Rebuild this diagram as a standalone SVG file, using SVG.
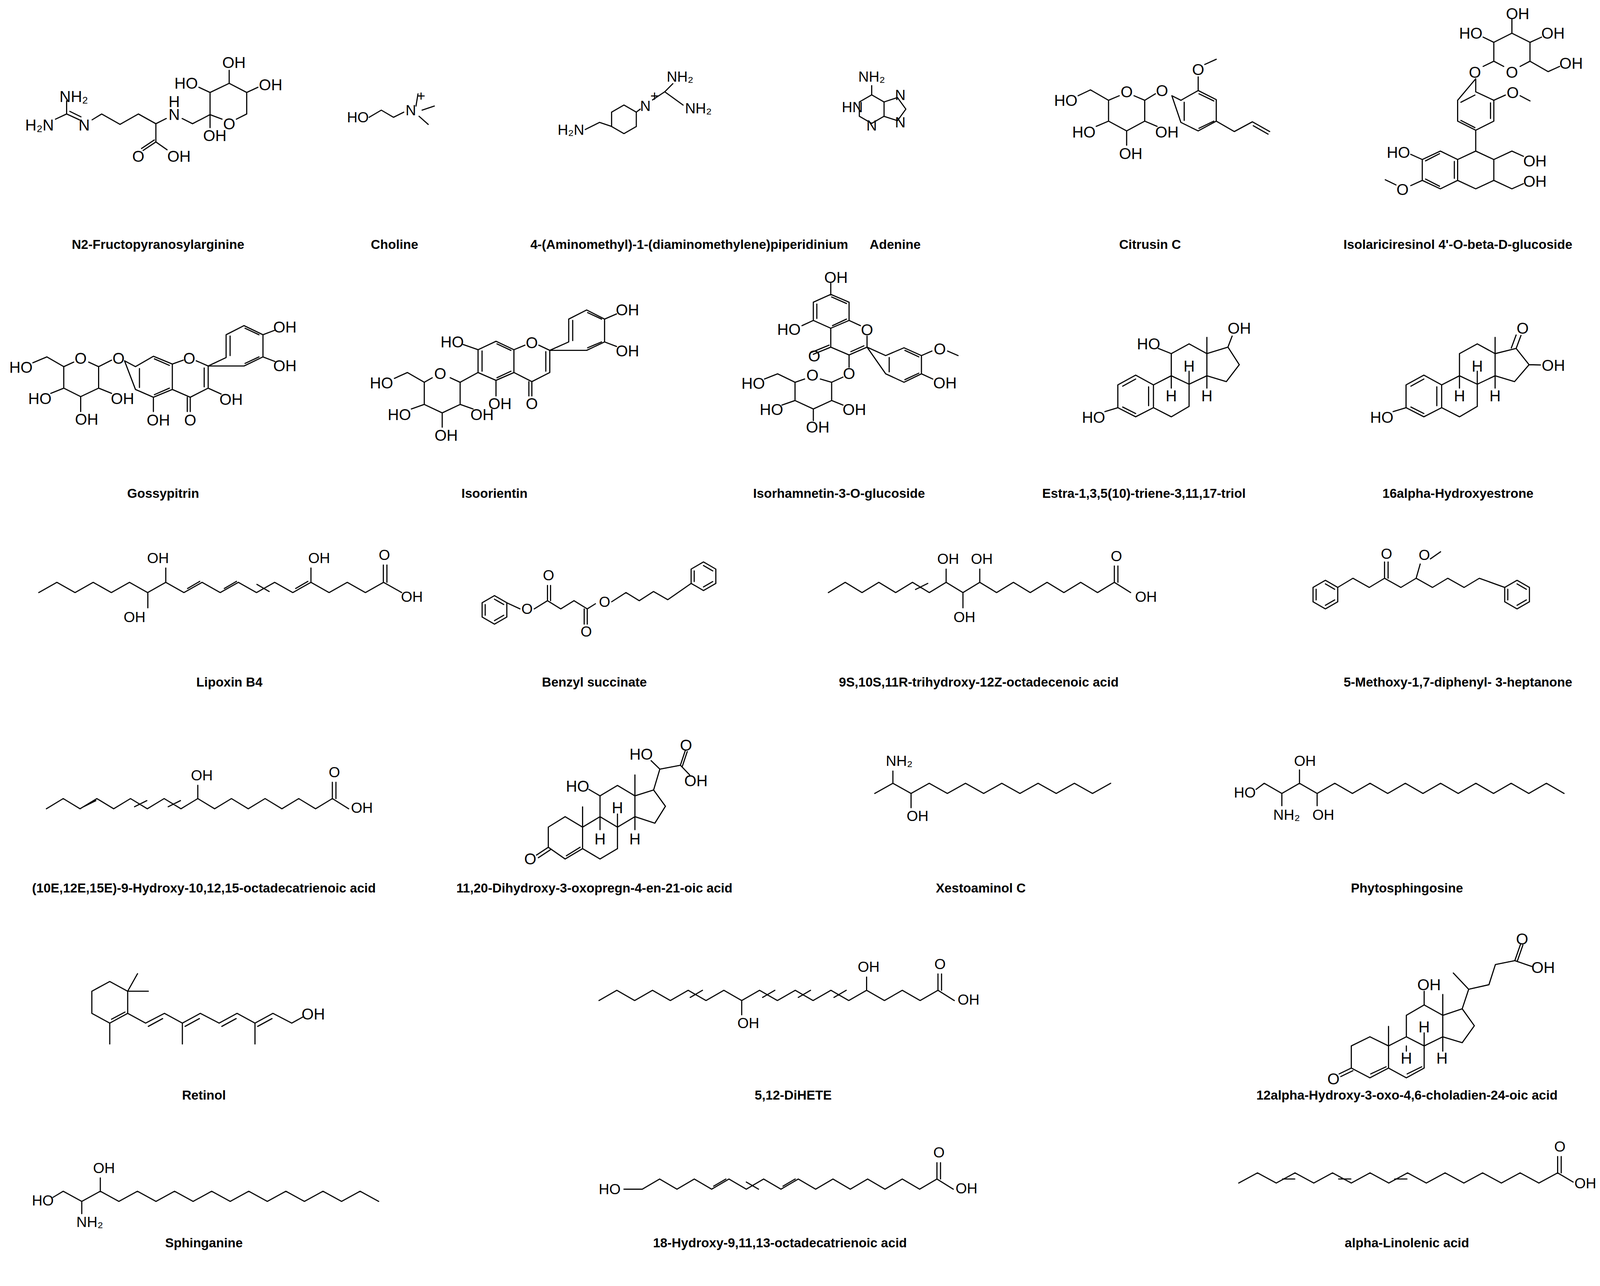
<svg xmlns="http://www.w3.org/2000/svg" width="4168" height="3291" viewBox="0 0 4168 3291">
<style>
.b{fill:none;stroke:#000;stroke-width:1.1;stroke-linejoin:round;stroke-linecap:round}
.z{fill:none;stroke:#000;stroke-width:2.9;vector-effect:non-scaling-stroke;stroke-linejoin:round;stroke-linecap:round}
.t{font-family:"Liberation Sans",Arial,sans-serif;font-size:12.7px;font-weight:bold;text-anchor:middle;fill:#000}
.a{font-family:"Liberation Sans",Arial,sans-serif;font-size:14.3px;text-anchor:middle;fill:#000}
.za{font-family:"Liberation Sans",Arial,sans-serif;text-anchor:middle;dominant-baseline:central;fill:#000}
</style>
<defs>
<path id="hex" class="b" d="M0,-14 L12.12,-7 L12.12,7 L0,14 L-12.12,7 L-12.12,-7 Z"/>
<g id="benz"><use href="#hex"/><path class="b" d="M0,-10.5 L9.1,-5.25 M9.1,5.25 L0,10.5 M-9.1,5.25 L-9.1,-5.25"/></g>
<path id="pent" class="b" d="M-9.63,-7 L3.68,-11.33 L11.91,0 L3.68,11.33 L-9.63,7"/>
</defs>
<rect width="4168" height="3291" fill="#fff"/>

<g id="n1">
<path class="z" transform="translate(40,20) scale(0.408,0.3333)" d="M250,855 L320,815 L320,715 M320,815 L400,860 M340,795 L410,837 M480,860 L540,815 L655,895 L770,815 L880,890 L945,850 M1045,850 L1110,890 L1220,820 L1220,650 L1340,580 L1450,650 L1450,815 L1385,855 M1295,855 L1220,820 M880,890 L880,1030 L800,1095 M870,1015 L790,1080 M880,1030 L950,1090 M1220,650 L1150,610 M1340,580 L1340,480 M1450,650 L1520,610 M1220,820 L1220,920"/>
<g transform="translate(40,20) scale(0.408)" font-size="98">
<text class="za" x="150" y="735">H₂N</text><text class="za" x="365" y="556">NH₂</text><text class="za" x="430" y="735">N</text>
<text class="za" x="995" y="670">N</text><text class="za" x="995" y="588">H</text>
<text class="za" x="770" y="931">O</text><text class="za" x="1025" y="931">OH</text>
<text class="za" x="1070" y="474">HO</text><text class="za" x="1370" y="343">OH</text><text class="za" x="1600" y="482">OH</text>
<text class="za" x="1250" y="801">OH</text><text class="za" x="1340" y="727">O</text>
</g>
<g transform="scale(2.61)"><text class="t" x="155" y="244">N2-Fructopyranosylarginine</text></g>
</g>

<g id="n2" transform="scale(2.61)">
<path class="b" d="M362,115 L374,108 L386,115 L396,110 M408,104 L410,92 M414,108 L426,104 M411,114 L420,122"/>
<text class="a" x="351" y="120">HO</text><text class="a" x="403" y="113">N</text><text class="a" x="413" y="99">+</text>
<text class="t" x="387" y="244">Choline</text>
</g>
<g id="n3" transform="scale(2.61)">
<path class="b" d="M574,127 L588,120 L600,124 M624,110 L628,107 M640,98 L652,90 L660,82 M652,90 L670,103"/>
<use href="#hex" x="612" y="117"/>
<text class="a" x="560" y="132">H₂N</text><text class="a" x="633" y="109">N</text><text class="a" x="642" y="99">+</text>
<text class="a" x="667" y="80">NH₂</text><text class="a" x="685" y="111">NH₂</text>
<text class="t" x="676" y="244">4-(Aminomethyl)-1-(diaminomethylene)piperidinium</text>
</g>
<g id="n4" transform="scale(2.61)">
<use href="#hex" x="855" y="107"/><use href="#pent" x="876.6" y="107"/>
<path class="b" d="M855,93 L855,84"/>
<text class="a" x="855" y="80">NH₂</text><text class="a" x="836" y="110">HN</text>
<text class="a" x="855" y="128">N</text><text class="a" x="883" y="98">N</text><text class="a" x="883" y="125">N</text>
<text class="t" x="878" y="244">Adenine</text>
</g>

<g id="n5">
<path class="z" transform="translate(2680,150) scale(0.421,0.3333)" d="M375,320 L440,285 M530,285 L595,320 L595,480 L485,555 L375,480 L375,320 L265,240 L190,285 M595,320 L660,270 M760,285 L815,320 L920,245 L1030,315 L1030,480 L920,555 L815,490 Z M835,335 L835,475 M925,270 L1015,325 M925,535 L1015,480 M920,245 L920,140 M960,45 L1030,5 M1030,480 L1140,560 L1250,485 L1355,560 M1255,515 L1345,580 M375,480 L300,520 M595,480 L670,520 M485,555 L485,665"/>
<g transform="translate(2680,150) scale(0.421)" font-size="95">
<text class="za" x="485" y="202">O</text><text class="za" x="115" y="253">HO</text><text class="za" x="700" y="194">O</text>
<text class="za" x="920" y="67">O</text><text class="za" x="225" y="447">HO</text><text class="za" x="730" y="447">OH</text><text class="za" x="510" y="578">OH</text>
</g>
<g transform="scale(2.61)"><text class="t" x="1128" y="244">Citrusin C</text></g>
</g>

<g id="n6">
<path class="z" transform="translate(3500,0) scale(0.421,0.3333)" d="M705,510 L770,470 L770,325 L880,255 L990,325 L990,470 L930,510 M830,510 L770,470 M990,470 L1100,550 L1170,510 M880,255 L880,145 M770,325 L705,285 M990,325 L1060,285 M660,605 L660,705 L770,770 L770,930 L660,1000 L550,930 L550,770 Z M750,790 L750,910 M655,980 L570,925 M570,785 L655,730 M770,770 L840,730 M930,735 L990,775 M660,1000 L660,1160 L770,1225 L770,1385 L660,1450 L550,1385 L550,1225 L660,1160 M550,1225 L445,1160 L335,1225 L335,1385 L445,1450 L550,1385 M530,1240 L530,1370 M440,1180 L355,1235 M355,1375 L440,1430 M770,1225 L880,1160 L950,1200 M770,1385 L880,1450 L950,1410 M335,1225 L265,1185 M335,1385 L265,1425 M110,1380 L175,1420"/>
<g transform="translate(3500,0) scale(0.421)" font-size="95">
<text class="za" x="915" y="83">OH</text><text class="za" x="630" y="202">HO</text><text class="za" x="1130" y="202">OH</text>
<text class="za" x="1240" y="384">OH</text><text class="za" x="880" y="440">O</text><text class="za" x="655" y="440">O</text>
<text class="za" x="885" y="562">O</text><text class="za" x="190" y="927">HO</text><text class="za" x="215" y="1152">O</text>
<text class="za" x="1020" y="978">OH</text><text class="za" x="1020" y="1101">OH</text>
</g>
<g transform="scale(2.61)"><text class="t" x="1430" y="244">Isolariciresinol 4'-O-beta-D-glucoside</text></g>
</g>

<g id="n7">
<path class="z" transform="translate(0,760) scale(0.510,0.3333)" d="M370,500 L320,535 L320,700 L405,765 L495,700 L495,535 L445,500 M320,535 L235,460 L165,505 M495,535 L560,485 M625,490 L680,535 L770,455 L865,515 L865,710 L770,770 L680,710 Z M700,550 L700,695 M775,475 L850,525 M775,750 L850,700 M865,515 L920,485 M985,490 L1045,530 L1045,700 L955,770 L865,710 M1025,545 L1025,690 M955,770 L955,880 M940,770 L940,880 M1045,700 L1110,745 M770,770 L770,880 M1045,530 L1135,465 L1135,290 L1225,220 L1320,290 L1320,460 L1225,530 Z M1155,300 L1155,450 M1230,240 L1300,290 M1230,510 L1300,460 M1320,290 L1380,255 M1320,460 L1380,495 M320,700 L255,740 M495,700 L560,740 M405,765 L405,880"/>
<g transform="translate(0,760) scale(0.510)" font-size="78">
<text class="za" x="405" y="307">O</text><text class="za" x="105" y="353">HO</text><text class="za" x="595" y="307">O</text><text class="za" x="950" y="307">O</text>
<text class="za" x="955" y="617">O</text><text class="za" x="1160" y="513">OH</text><text class="za" x="795" y="617">OH</text>
<text class="za" x="1430" y="150">OH</text><text class="za" x="1430" y="346">OH</text>
<text class="za" x="200" y="509">HO</text><text class="za" x="615" y="509">OH</text><text class="za" x="435" y="614">OH</text>
</g>
<g transform="scale(2.61)"><text class="t" x="160" y="488">Gossypitrin</text></g>
</g>

<g id="n8">
<path class="z" transform="translate(900,760) scale(0.510,0.3333)" d="M635,405 L725,340 L815,405 L815,580 L725,640 L635,580 Z M655,415 L655,570 M730,360 L800,410 M730,620 L800,570 M635,405 L560,365 M815,405 L870,370 M940,370 L995,410 L995,580 L905,650 L815,580 M975,420 L975,570 M905,650 L905,760 M890,650 L890,760 M725,640 L725,760 M995,410 L1090,345 L1090,170 L1180,100 L1270,170 L1270,345 L1180,410 Z M1110,180 L1110,335 M1185,120 L1255,170 M1185,390 L1255,345 M1270,170 L1330,130 M1270,345 L1330,380 M635,580 L545,655 L495,620 M405,620 L365,655 L365,825 L455,890 L545,825 L545,655 M365,655 L280,580 L215,625 M365,825 L300,860 M545,825 L610,860 M455,890 L455,1000"/>
<g transform="translate(900,760) scale(0.510)" font-size="78">
<text class="za" x="505" y="225">HO</text><text class="za" x="905" y="229">O</text><text class="za" x="905" y="535">O</text><text class="za" x="745" y="535">OH</text>
<text class="za" x="1385" y="65">OH</text><text class="za" x="1385" y="271">OH</text><text class="za" x="445" y="385">O</text>
<text class="za" x="150" y="431">HO</text><text class="za" x="240" y="591">HO</text><text class="za" x="655" y="591">OH</text><text class="za" x="475" y="695">OH</text>
</g>
<g transform="scale(2.61)"><text class="t" x="485" y="488">Isoorientin</text></g>
</g>

<g id="n9">
<path class="z" transform="translate(1850,620) scale(0.4464,0.3333)" d="M620,400 L725,460 L725,600 L620,660 L520,600 L520,460 Z M540,475 L540,585 M625,420 L710,470 M630,640 L710,590 M620,400 L620,315 M520,600 L455,640 M725,600 L790,640 M828,720 L828,805 L725,865 L620,805 L620,660 M810,795 L735,840 M620,805 L520,860 M610,790 L510,845 M725,865 L725,960 M828,805 L935,870 L1040,810 L1140,870 L1140,1010 L1040,1075 L935,1010 Z M955,885 L955,995 M1045,830 L1125,880 M1045,1055 L1125,1005 M1140,870 L1200,835 M1290,835 L1350,870 M1140,1010 L1205,1050 M470,1050 L415,1075 L415,1215 L520,1280 L625,1215 L625,1075 L560,1050 M415,1075 L315,1010 L240,1050 M625,1075 L690,1035 M415,1215 L340,1250 M625,1215 L690,1250 M520,1280 L520,1370"/>
<g transform="translate(1850,620) scale(0.4464)" font-size="90">
<text class="za" x="650" y="202">OH</text><text class="za" x="380" y="500">HO</text><text class="za" x="828" y="504">O</text><text class="za" x="525" y="654">O</text>
<text class="za" x="725" y="754">O</text><text class="za" x="1245" y="613">O</text><text class="za" x="1275" y="807">OH</text>
<text class="za" x="515" y="762">O</text><text class="za" x="175" y="810">HO</text><text class="za" x="280" y="960">HO</text><text class="za" x="755" y="960">OH</text><text class="za" x="545" y="1061">OH</text>
</g>
<g transform="scale(2.61)"><text class="t" x="823" y="488">Isorhamnetin-3-O-glucoside</text></g>
</g>

<g id="n10">
<path class="z" transform="translate(2700,780) scale(0.829,0.3333)" d="M250,540 L305,615 L305,790 L250,860 L195,790 L195,615 Z M210,625 L250,570 M290,630 L290,775 M210,785 L250,835 M195,790 L155,820 M305,615 L360,545 L415,610 L415,780 L360,860 L305,790 M360,545 L360,375 L415,300 L470,375 L470,545 L415,610 M470,375 L535,325 L570,460 L530,590 L470,545 M360,375 L320,335 M470,375 L470,250 M535,325 L548,240 M415,610 L415,510 M360,545 L360,640 M470,545 L470,640"/>
<g transform="translate(2700,780) scale(0.829)" font-size="48">
<text class="za" x="120" y="348">HO</text><text class="za" x="290" y="121">HO</text><text class="za" x="570" y="72">OH</text>
<text class="za" x="415" y="189">H</text><text class="za" x="360" y="281">H</text><text class="za" x="470" y="281">H</text>
</g>
<g transform="scale(2.61)"><text class="t" x="1122" y="488">Estra-1,3,5(10)-triene-3,11,17-triol</text></g>
</g>

<g id="n11">
<path class="z" transform="translate(2700,780) scale(0.829,0.3333)" d="M1140,540 L1195,615 L1195,790 L1140,860 L1085,790 L1085,615 Z M1100,625 L1140,570 M1180,630 L1180,775 M1100,785 L1140,835 M1085,790 L1045,820 M1195,615 L1250,545 L1305,610 L1305,780 L1250,860 L1195,790 M1250,545 L1250,375 L1305,300 L1360,375 L1360,545 L1305,610 M1360,375 L1425,335 L1465,460 L1420,590 L1360,545 M1360,375 L1360,250 M1425,335 L1440,235 M1410,332 L1425,232 M1465,460 L1500,462 M1305,610 L1305,510 M1250,545 L1250,640 M1360,545 L1360,640"/>
<g transform="translate(2700,780) scale(0.829)" font-size="48">
<text class="za" x="1010" y="348">HO</text><text class="za" x="1445" y="72">O</text><text class="za" x="1540" y="187">OH</text>
<text class="za" x="1305" y="189">H</text><text class="za" x="1250" y="281">H</text><text class="za" x="1360" y="281">H</text>
</g>
<g transform="scale(2.61)"><text class="t" x="1430" y="488">16alpha-Hydroxyestrone</text></g>
</g>

<g id="n12" transform="scale(2.61)">
<path class="b" d="M38,581 l17.8,-10 l17.8,10 l17.8,-10 l17.8,10 l17.8,-10 l17.8,10 l17.8,-10 l17.8,10 l17.8,-10 l17.8,10 l17.8,-10 l17.8,10 l17.8,-10 l17.8,10 l17.8,-10 l17.8,10 l17.8,-10 l17.8,10 l17.8,-10 l17.8,10 M376,571 L376,554 M379.5,571 L379.5,554 M162.6,571 L162.6,557 M145,581 L145,596 M305,571 L305,557 M184,577 l12,-7 M220,577 l12,-7 M252,573 l12,7 M290,577 l12,-7"/>
<text class="a" x="155" y="552">OH</text><text class="a" x="132" y="610">OH</text><text class="a" x="313" y="552">OH</text>
<text class="a" x="377" y="549">O</text><text class="a" x="404" y="590">OH</text>
<text class="t" x="225" y="673">Lipoxin B4</text>
</g>
<g id="n13" transform="scale(2.61)">
<use href="#benz" x="485" y="598"/><use href="#benz" x="690" y="565"/>
<path class="b" d="M497,591 L510,597 M524,597 L537,589 L550,597 L563,589 L576,597 L584,592 M537,589 L537,574 M540,589 L540,574 M576,597 L576,612 M573,597 L573,612 M600,590 L614,581 L627,589 L641,580 L655,588 L678,572"/>
<text class="a" x="517" y="602">O</text><text class="a" x="538" y="569">O</text><text class="a" x="575" y="624">O</text><text class="a" x="593" y="595">O</text>
<text class="t" x="583" y="673">Benzyl succinate</text>
</g>
<g id="n14" transform="scale(2.61)">
<path class="b" d="M812.5,581 l16.5,-10 l16.5,10 l16.5,-10 l16.5,10 l16.5,-10 l16.5,10 l16.5,-10 l16.5,10 l16.5,-10 l16.5,10 l16.5,-10 l16.5,10 l16.5,-10 l16.5,10 l16.5,-10 l16.5,10 l16.5,-10 M1093,571 L1093,555 M1096.5,571 L1096.5,555 M1093,571 L1109,581 M928,571 L928,558 M961,571 L961,558 M944.5,581 L944.5,596 M898,578 l12,-6"/>
<text class="a" x="930" y="553">OH</text><text class="a" x="963" y="553">OH</text><text class="a" x="946" y="610">OH</text>
<text class="a" x="1095" y="550">O</text><text class="a" x="1124" y="590">OH</text>
<text class="t" x="960" y="673">9S,10S,11R-trihydroxy-12Z-octadecenoic acid</text>
</g>
<g id="n15" transform="scale(2.61)">
<use href="#benz" x="1300" y="583"/><use href="#benz" x="1488" y="583"/>
<path class="b" d="M1312,576 L1327,567 L1343,576 L1358,567 L1374,576 L1389,567 L1405,576 L1420,567 L1436,576 L1451,567 L1476,576 M1358,567 L1358,551 M1361.5,567 L1361.5,551 M1389,567 L1393,553 M1403,548 L1413,541"/>
<text class="a" x="1360" y="548">O</text><text class="a" x="1397" y="549">O</text>
<text class="t" x="1430" y="673">5-Methoxy-1,7-diphenyl- 3-heptanone</text>
</g>
<g id="n16" transform="scale(2.61)">
<path class="b" d="M45.5,793 l16.5,-10 l16.5,10 l16.5,-10 l16.5,10 l16.5,-10 l16.5,10 l16.5,-10 l16.5,10 l16.5,-10 l16.5,10 l16.5,-10 l16.5,10 l16.5,-10 l16.5,10 l16.5,-10 l16.5,10 l16.5,-10 M326,783 L326,767 M329.5,783 L329.5,767 M326,783 L342,793 M194,783 L194,770 M82,791 l12,-6 M132,791 l12,-6 M165,791 l12,-6"/>
<text class="a" x="198" y="765">OH</text><text class="a" x="328" y="762">O</text><text class="a" x="355" y="797">OH</text>
<text class="t" x="200" y="875">(10E,12E,15E)-9-Hydroxy-10,12,15-octadecatrienoic acid</text>
</g>

<g id="n17">
<path class="z" transform="translate(1300,1850) scale(0.319,0.3333)" d="M325,800 L460,720 L600,800 L600,965 L460,1045 L325,955 Z M325,955 L230,1015 M340,975 L245,1035 M470,1020 L580,955 M600,800 L740,720 L880,800 L880,965 L740,1045 L600,965 M600,800 L600,645 M740,720 L740,560 L880,480 L1020,560 L1020,720 L880,800 M740,560 L650,510 M1020,560 L1020,400 M1020,560 L1170,515 L1265,640 L1180,770 L1020,720 M1170,515 L1220,355 L1150,290 M1220,355 L1385,325 L1425,210 M1400,335 L1440,220 M1385,325 L1460,400 M880,800 L880,700 M740,720 L740,820 M1020,720 L1020,820"/>
<g transform="translate(1300,1850) scale(0.319)" font-size="125">
<text class="za" x="180" y="1092">O</text><text class="za" x="560" y="507">HO</text><text class="za" x="1070" y="251">HO</text>
<text class="za" x="1430" y="178">O</text><text class="za" x="1510" y="465">OH</text>
<text class="za" x="880" y="679">H</text><text class="za" x="740" y="930">H</text><text class="za" x="1020" y="930">H</text>
</g>
<g transform="scale(2.61)"><text class="t" x="583" y="875">11,20-Dihydroxy-3-oxopregn-4-en-21-oic acid</text></g>
</g>

<g id="n18" transform="scale(2.61)">
<path class="b" d="M858,778 l17.8,-10 l17.8,10 l17.8,-10 l17.8,10 l17.8,-10 l17.8,10 l17.8,-10 l17.8,10 l17.8,-10 l17.8,10 l17.8,-10 l17.8,10 l17.8,-10 M875.8,768 L875.8,756 M893.6,778 L893.6,792"/>
<text class="a" x="882" y="751">NH₂</text><text class="a" x="900" y="805">OH</text>
<text class="t" x="962" y="875">Xestoaminol C</text>
</g>
<g id="n19" transform="scale(2.61)">
<path class="b" d="M1232,774 L1240,768 l17.3,10 l17.3,-10 l17.3,10 l17.3,-10 l17.3,10 l17.3,-10 l17.3,10 l17.3,-10 l17.3,10 l17.3,-10 l17.3,10 l17.3,-10 l17.3,10 l17.3,-10 l17.3,10 l17.3,-10 l17.3,10 M1257.3,778 L1257.3,790 M1274.6,768 L1274.6,755 M1291.9,778 L1291.9,790"/>
<text class="a" x="1221" y="782">HO</text><text class="a" x="1280" y="751">OH</text><text class="a" x="1262" y="804">NH₂</text><text class="a" x="1298" y="804">OH</text>
<text class="t" x="1380" y="875">Phytosphingosine</text>
</g>

<g id="n20">
<path class="z" transform="translate(180,2400) scale(0.459,0.3333)" d="M120,410 L220,335 L320,410 L320,580 L220,655 L120,580 Z M230,625 L305,570 M320,410 L375,275 M320,410 L435,410 M220,655 L220,815 M320,580 L420,655 L525,580 L625,655 L725,580 L830,655 L930,580 L1030,655 L1130,580 L1235,655 L1300,605 M435,680 L515,620 M640,680 L720,620 M845,680 L925,620 M1045,680 L1125,620 M625,655 L625,815 M1030,655 L1030,815"/>
<g transform="translate(180,2400) scale(0.459)" font-size="87">
<text class="za" x="1355" y="425">OH</text>
</g>
<g transform="scale(2.61)"><text class="t" x="200" y="1078">Retinol</text></g>
</g>

<g id="n21" transform="scale(2.61)">
<path class="b" d="M587.5,981 l17.5,-10 l17.5,10 l17.5,-10 l17.5,10 l17.5,-10 l17.5,10 l17.5,-10 l17.5,10 l17.5,-10 l17.5,10 l17.5,-10 l17.5,10 l17.5,-10 l17.5,10 l17.5,-10 l17.5,10 l17.5,-10 l17.5,10 l17.5,-10 M920,971 L920,955 M923.5,971 L923.5,955 M920,971 L936,981 M850,971 L850,958 M727.5,981 L727.5,995 M677,978 l12,-7 M748,978 l12,-7 M783,978 l12,-7 M818,978 l12,-7"/>
<text class="a" x="852" y="953">OH</text><text class="a" x="734" y="1008">OH</text><text class="a" x="922" y="950">O</text><text class="a" x="950" y="985">OH</text>
<text class="t" x="778" y="1078">5,12-DiHETE</text>
</g>

<g id="n22">
<path class="z" transform="translate(3250,2380) scale(0.4145,0.3333)" d="M505,890 L620,820 L735,890 L735,1060 L620,1135 L505,1060 Z M505,1060 L430,1105 M515,1080 L440,1125 M625,1105 L720,1050 M735,890 L845,820 L955,890 L955,1060 L845,1135 L735,1060 M850,1105 L940,1050 M735,890 L735,740 M845,820 L845,655 L955,575 L1070,655 L1070,820 L955,890 M955,575 L955,470 M1070,655 L1070,495 M1070,655 L1190,605 L1265,735 L1190,865 L1070,820 M1190,605 L1230,455 L1135,330 M1230,455 L1355,420 L1395,265 L1515,235 L1550,110 M1530,240 L1565,115 M1515,235 L1620,280 M955,890 L955,790 M845,890 L845,930 M1070,820 L1070,930"/>
<g transform="translate(3250,2380) scale(0.4145)" font-size="97">
<text class="za" x="395" y="921">O</text><text class="za" x="985" y="338">OH</text><text class="za" x="1560" y="56">O</text><text class="za" x="1690" y="233">OH</text>
<text class="za" x="955" y="599">H</text><text class="za" x="845" y="792">H</text><text class="za" x="1065" y="792">H</text>
</g>
<g transform="scale(2.61)"><text class="t" x="1380" y="1078">12alpha-Hydroxy-3-oxo-4,6-choladien-24-oic acid</text></g>
</g>

<g id="n23" transform="scale(2.61)">
<path class="b" d="M52,1174 L62,1168 l18.2,10 l18.2,-10 l18.2,10 l18.2,-10 l18.2,10 l18.2,-10 l18.2,10 l18.2,-10 l18.2,10 l18.2,-10 l18.2,10 l18.2,-10 l18.2,10 l18.2,-10 l18.2,10 l18.2,-10 l18.2,10 M80.2,1178 L80.2,1190 M98.4,1168 L98.4,1155"/>
<text class="a" x="42" y="1182">HO</text><text class="a" x="102" y="1150">OH</text><text class="a" x="88" y="1203">NH₂</text>
<text class="t" x="200" y="1223">Sphinganine</text>
</g>
<g id="n24" transform="scale(2.61)">
<path class="b" d="M612,1166 L630,1166 l17,-10 l17,10 l17,-10 l17,10 l17,-10 l17,10 l17,-10 l17,10 l17,-10 l17,10 l17,-10 l17,10 l17,-10 l17,10 l17,-10 l17,10 l17,-10 M919,1156 L919,1140 M922.5,1156 L922.5,1140 M919,1156 L935,1166 M700,1163 l12,-7 M732,1159 l12,7 M768,1163 l12,-7"/>
<text class="a" x="598" y="1171">HO</text><text class="a" x="921" y="1135">O</text><text class="a" x="948" y="1170">OH</text>
<text class="t" x="765" y="1223">18-Hydroxy-9,11,13-octadecatrienoic acid</text>
</g>
<g id="n25" transform="scale(2.61)">
<path class="b" d="M1215,1160 l18.4,-10 l18.4,10 l18.4,-10 l18.4,10 l18.4,-10 l18.4,10 l18.4,-10 l18.4,10 l18.4,-10 l18.4,10 l18.4,-10 l18.4,10 l18.4,-10 l18.4,10 l18.4,-10 l18.4,10 l18.4,-10 M1527.8,1150 L1527.8,1134 M1531.3,1150 L1531.3,1134 M1527.8,1150 L1543,1159 M1258,1156 l12,0 M1313,1156 l12,0 M1368,1156 l12,0"/>
<text class="a" x="1530" y="1129">O</text><text class="a" x="1555" y="1165">OH</text>
<text class="t" x="1380" y="1223">alpha-Linolenic acid</text>
</g>
</svg>
